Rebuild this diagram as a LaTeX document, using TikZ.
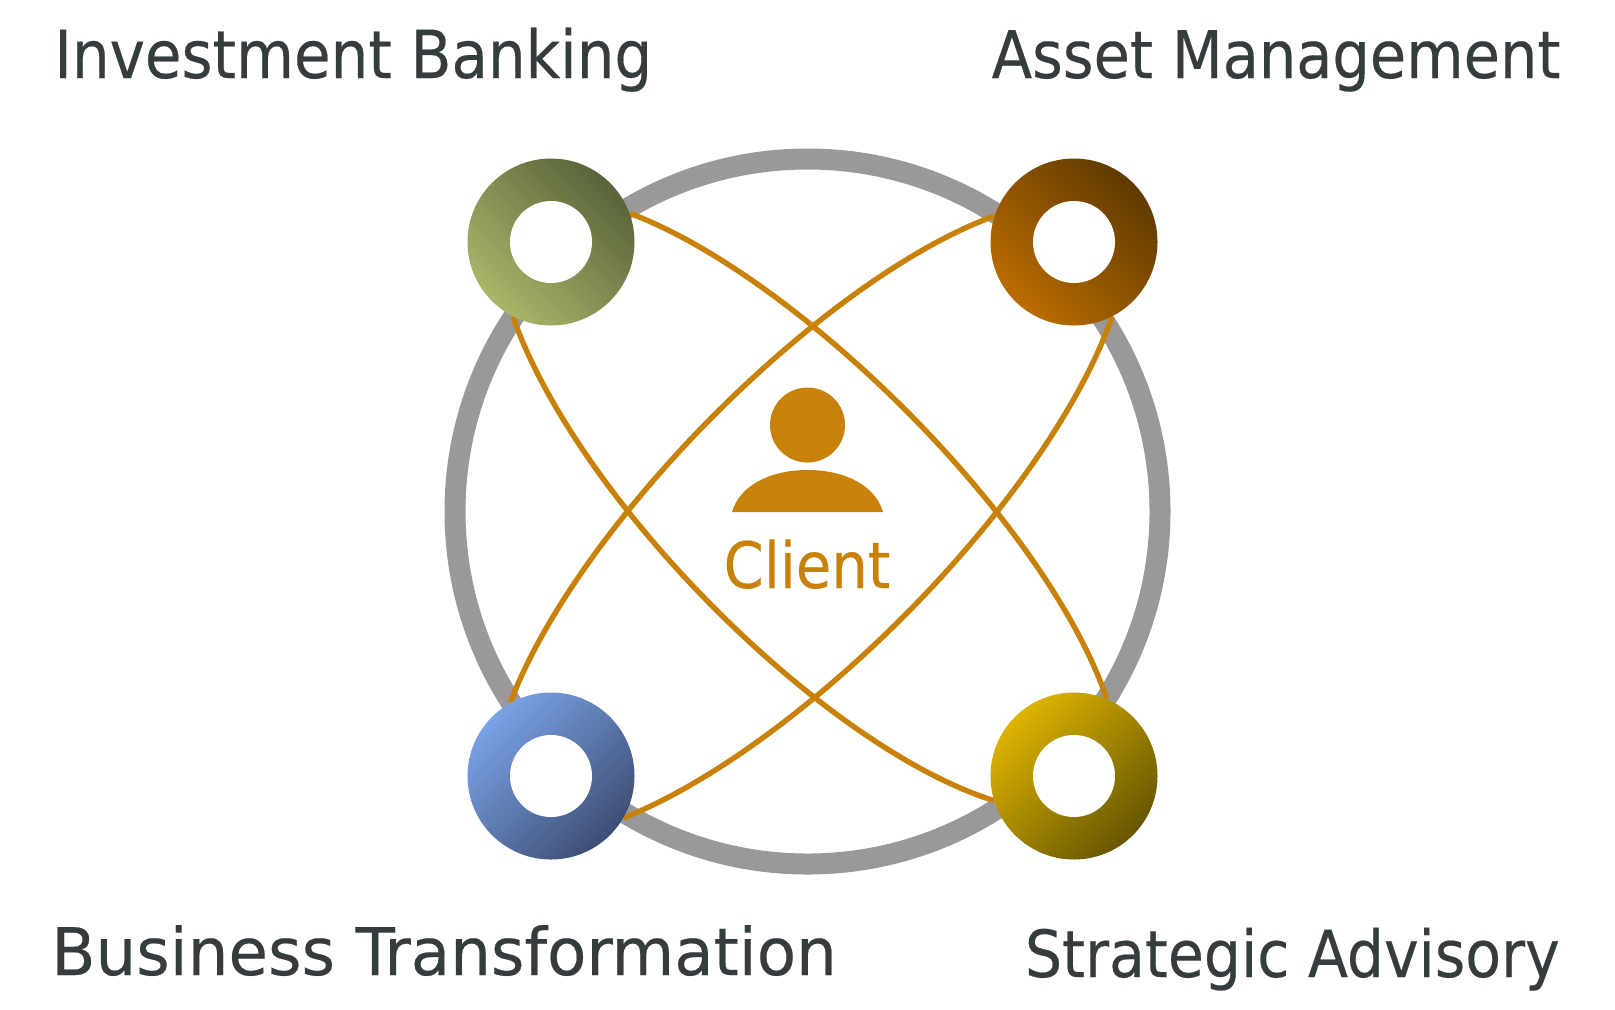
\documentclass[tikz,border=0pt]{standalone}
\usepackage{fontspec}
\setmainfont[FakeBold=0.3]{DejaVu Sans Condensed}
\newfontfamily\widefont[FakeStretch=1.09,FakeBold=0.3]{DejaVu Sans Condensed}
\definecolor{inkdark}{HTML}{343C3E}
\definecolor{orangeline}{HTML}{C8820A}
\definecolor{greyring}{HTML}{999999}
\definecolor{oliveL}{HTML}{ACB56A}
\definecolor{oliveD}{HTML}{58633A}
\definecolor{brownL}{HTML}{BA6C00}
\definecolor{brownD}{HTML}{5F3A00}
\definecolor{blueL}{HTML}{7AA2E6}
\definecolor{blueD}{HTML}{3E4E74}
\definecolor{goldL}{HTML}{DEB300}
\definecolor{goldD}{HTML}{665600}
\tikzset{
  x=0.5pt,y=-0.5pt,
  label text/.style={inner sep=0pt,text=inkdark,font=\fontsize{32.8}{40}\selectfont},
  ring/.style={circle,inner sep=0pt,minimum size=83.5pt},
  hole/.style={circle,inner sep=0pt,minimum size=41pt,fill=white},
  link/.style={draw=orangeline,line width=2.7pt},
}
\begin{document}
\begin{tikzpicture}
\useasboundingbox (0,0) rectangle (1615,1009);
\fill[white] (0,0) rectangle (1615,1009);
% large grey ring
\node[circle,draw=greyring,line width=10.5pt,inner sep=0pt,minimum size=352.5pt,outer sep=0pt] (orbit) at (807.5,511.5) {};
% ring nodes
\node[ring] (tl) at (551,242) {};
\node[ring] (tr) at (1074,242) {};
\node[ring] (bl) at (551,776) {};
\node[ring] (br) at (1074,776) {};
% links
\draw[link] (tl.20) .. controls (801,277.8) and (1047.2,524) .. (br.67);
\draw[link] (br.197) .. controls (824,747.2) and (577.8,501) .. (tl.243);
\draw[link] (tr.162) .. controls (824,277.8) and (577.8,524) .. (bl.119);
\draw[link] (bl.330) .. controls (801,747.2) and (1047.2,501) .. (tr.297);
% gradient rings
\node[ring,top color=oliveD,bottom color=oliveL,shading angle=-45] at (tl) {};
\node[ring,top color=brownD,bottom color=brownL,shading angle=-45] at (tr) {};
\node[ring,top color=blueL,bottom color=blueD,shading angle=45] at (bl) {};
\node[ring,top color=goldL,bottom color=goldD,shading angle=45] at (br) {};
\node[hole] (tlh) at (tl) {};
\node[hole] (trh) at (tr) {};
\node[hole] (blh) at (bl) {};
\node[hole] (brh) at (br) {};
% client icon
\node[circle,fill=orangeline,inner sep=0pt,minimum size=37.5pt] (head) at (807.5,425) {};
\fill[orangeline] (732,512) .. controls (739,487) and (768,470) .. (807.5,470) .. controls (847,470) and (876,487) .. (883,512) -- cycle;
\node[inner sep=0pt,anchor=base,text=orangeline,font=\fontsize{32}{38}\selectfont] (client) at (807,588) {Client};
% labels
\node[label text,anchor=base west,font=\fontsize{33.1}{40}\selectfont] (ib) at (54,78) {Investment Banking};
\node[label text,anchor=base east] (am) at (1561,78) {Asset Management};
\node[label text,anchor=base west,font=\widefont\fontsize{32.8}{40}\selectfont] (bt) at (51,975) {Business Transformation};
\node[label text,anchor=base east,font=\fontsize{32.5}{40}\selectfont] (sa) at (1560,977) {Strategic Advisory};
\end{tikzpicture}
\end{document}
